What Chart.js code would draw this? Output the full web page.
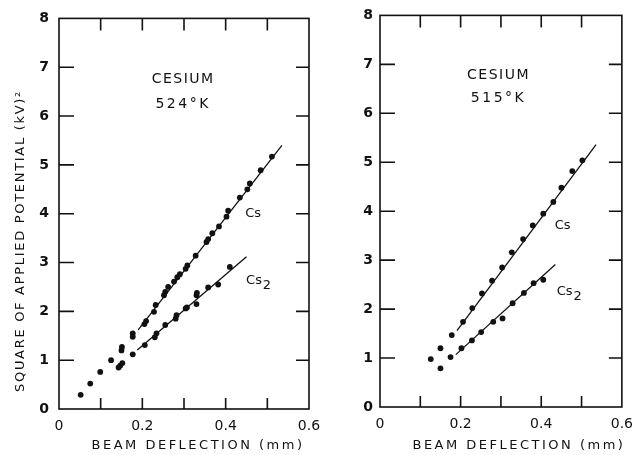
<!DOCTYPE html>
<html>
<head>
<meta charset="utf-8">
<script src="https://cdn.jsdelivr.net/npm/chart.js@4"></script>
<style>
  body { margin: 0; background: #fff; }
  #wrap { position: relative; width: 642px; height: 455px; }
  canvas { position: absolute; top: 0; }
  #left { left: 0; }
  #right { left: 330px; }
</style>
</head>
<body>
<div id="wrap">
  <canvas id="left" width="330" height="455"></canvas>
  <canvas id="right" width="312" height="455"></canvas>
</div>
<script>
// axis ticks
const xLabelTicks = [0, 0.2, 0.4, 0.6];
const xMinorTicks = [0.1, 0.2, 0.3, 0.4, 0.5];
const yInnerTicks = [1, 2, 3, 4, 5, 6, 7];

// 524 K panel
const leftCsX = [0.052, 0.075, 0.099, 0.125, 0.150, 0.151, 0.177, 0.177, 0.205, 0.209, 0.228, 0.232, 0.252, 0.255, 0.262, 0.276, 0.284, 0.290, 0.304, 0.308, 0.328, 0.354, 0.358, 0.368, 0.384, 0.402, 0.406, 0.434, 0.452, 0.458, 0.484, 0.511];
const leftCsY = [0.29, 0.52, 0.76, 1.00, 1.20, 1.27, 1.48, 1.55, 1.74, 1.80, 1.99, 2.13, 2.33, 2.40, 2.50, 2.61, 2.70, 2.76, 2.87, 2.94, 3.14, 3.42, 3.48, 3.60, 3.74, 3.94, 4.06, 4.33, 4.50, 4.62, 4.89, 5.17];
const leftCs2X = [0.143, 0.147, 0.152, 0.177, 0.206, 0.230, 0.234, 0.255, 0.280, 0.282, 0.304, 0.307, 0.330, 0.330, 0.331, 0.358, 0.382, 0.410];
const leftCs2Y = [0.85, 0.89, 0.94, 1.12, 1.31, 1.47, 1.55, 1.72, 1.85, 1.92, 2.06, 2.08, 2.15, 2.33, 2.38, 2.49, 2.55, 2.91];
const leftCsFitX = [0.190, 0.535];
const leftCsFitY = [1.62, 5.40];
const leftCs2FitX = [0.188, 0.450];
const leftCs2FitY = [1.21, 3.12];

// 515 K panel
const rightCsX = [0.126, 0.150, 0.178, 0.206, 0.229, 0.253, 0.278, 0.303, 0.327, 0.355, 0.379, 0.405, 0.430, 0.450, 0.477, 0.502];
const rightCsY = [0.98, 1.20, 1.47, 1.74, 2.02, 2.32, 2.58, 2.85, 3.16, 3.43, 3.71, 3.95, 4.19, 4.48, 4.82, 5.04];
const rightCs2X = [0.150, 0.175, 0.202, 0.228, 0.251, 0.281, 0.304, 0.329, 0.357, 0.381, 0.405];
const rightCs2Y = [0.79, 1.02, 1.20, 1.36, 1.53, 1.74, 1.81, 2.12, 2.33, 2.53, 2.60];
const rightCsFitX = [0.191, 0.536];
const rightCsFitY = [1.56, 5.36];
const rightCs2FitX = [0.188, 0.435];
const rightCs2FitY = [1.07, 2.91];

const ink = '#111';
const font = "'DejaVu Sans', sans-serif";

function pts(xs, ys) {
  return xs.map((x, i) => ({ x: x, y: ys[i] }));
}

function dots(xs, ys) {
  return { type: 'scatter', data: pts(xs, ys), pointRadius: 2.9, pointBackgroundColor: ink, pointBorderWidth: 0, showLine: false };
}

function fit(xs, ys) {
  return { type: 'line', data: pts(xs, ys), borderColor: ink, borderWidth: 1.3, pointRadius: 0, showLine: true, fill: false };
}

// frame, inward ticks and the hand-lettered labels
const framePlugin = {
  id: 'frame',
  afterDraw(chart, args, opts) {
    const ctx = chart.ctx;
    const a = chart.chartArea;
    const xs = chart.scales.x, ys = chart.scales.y;
    ctx.save();
    ctx.strokeStyle = ink;
    ctx.lineWidth = 1.6;
    ctx.strokeRect(a.left, a.top, a.right - a.left, a.bottom - a.top);
    ctx.beginPath();
    xMinorTicks.forEach(v => {
      const px = xs.getPixelForValue(v);
      ctx.moveTo(px, a.top); ctx.lineTo(px, a.top + 12);
      ctx.moveTo(px, a.bottom); ctx.lineTo(px, a.bottom - 11);
    });
    yInnerTicks.forEach(v => {
      const py = ys.getPixelForValue(v);
      ctx.moveTo(a.left, py); ctx.lineTo(a.left + 15, py);
      ctx.moveTo(a.right, py); ctx.lineTo(a.right - 13, py);
    });
    ctx.stroke();

    ctx.fillStyle = ink;
    ctx.textAlign = 'center';
    ctx.textBaseline = 'middle';
    opts.labels.forEach(l => {
      ctx.font = l.font;
      ctx.letterSpacing = l.spacing || '0px';
      const px = xs.getPixelForValue(l.x), py = ys.getPixelForValue(l.y);
      ctx.fillText(l.text, px, py);
      if (l.sub) {
        ctx.font = '13px ' + font;
        ctx.letterSpacing = '0px';
        ctx.fillText(l.sub, px + 13, py + 5);
      }
    });

    // axis titles
    ctx.font = '13px ' + font;
    ctx.letterSpacing = '2.5px';
    ctx.fillText('BEAM DEFLECTION (mm)', (a.left + a.right) / 2 + opts.titleShift, 446);
    if (opts.yTitle) {
      ctx.translate(21, 241);
      ctx.rotate(-Math.PI / 2);
      ctx.letterSpacing = '1.7px';
      ctx.fillText('SQUARE OF APPLIED POTENTIAL (kV)²', 0, 0);
    }
    ctx.restore();
  }
};

function makeChart(id, datasets, labels, yTitle, yWidth, pad) {
  return new Chart(document.getElementById(id), {
    data: { datasets: datasets },
    plugins: [framePlugin],
    options: {
      responsive: false,
      devicePixelRatio: 1,
      animation: false,
      layout: { padding: pad },
      plugins: {
        legend: { display: false },
        tooltip: { enabled: false },
        frame: { labels: labels, yTitle: yTitle, titleShift: pad.titleShift }
      },
      scales: {
        x: {
          type: 'linear', min: 0, max: 0.6,
          afterFit(s) { s.height = 455 - pad.top - pad.plotH; },
          afterBuildTicks(s) { s.ticks = xLabelTicks.map(v => ({ value: v })); },
          grid: { display: false, drawTicks: false },
          border: { display: false },
          ticks: {
            padding: 9, color: ink, font: { family: font, size: 14 },
            callback: v => v === 0 ? '0' : v.toFixed(1)
          }
        },
        y: {
          type: 'linear', min: 0, max: 8,
          afterFit(s) { s.width = yWidth; },
          grid: { display: false, drawTicks: false },
          border: { display: false },
          ticks: { stepSize: 1, padding: pad.yPad, color: ink, font: { family: font, size: 14, weight: 'bold' } }
        }
      }
    }
  });
}

makeChart('left', [
  dots(leftCsX, leftCsY),
  dots(leftCs2X, leftCs2Y),
  fit(leftCsFitX, leftCsFitY),
  fit(leftCs2FitX, leftCs2FitY)
], [
  { text: 'CESIUM', x: 0.298, y: 6.75, font: '14px ' + font, spacing: '1.5px' },
  { text: '524°K', x: 0.298, y: 6.24, font: '14px ' + font, spacing: '2.5px' },
  { text: 'Cs', x: 0.466, y: 4.0, font: '13px ' + font },
  { text: 'Cs', x: 0.468, y: 2.62, font: '13px ' + font, sub: '2' }
], true, 59, { top: 17, right: 21, left: 0, bottom: 0, plotH: 392, yPad: 10, titleShift: 14 });

makeChart('right', [
  dots(rightCsX, rightCsY),
  dots(rightCs2X, rightCs2Y),
  fit(rightCsFitX, rightCsFitY),
  fit(rightCs2FitX, rightCs2FitY)
], [
  { text: 'CESIUM', x: 0.294, y: 6.77, font: '14px ' + font, spacing: '1.5px' },
  { text: '515°K', x: 0.294, y: 6.3, font: '14px ' + font, spacing: '2.5px' },
  { text: 'Cs', x: 0.453, y: 3.71, font: '13px ' + font },
  { text: 'Cs', x: 0.458, y: 2.35, font: '13px ' + font, sub: '2' }
], false, 50, { top: 15, right: 9, left: 0, bottom: 0, plotH: 392, yPad: 7, titleShift: 18 });
</script>
</body>
</html>
